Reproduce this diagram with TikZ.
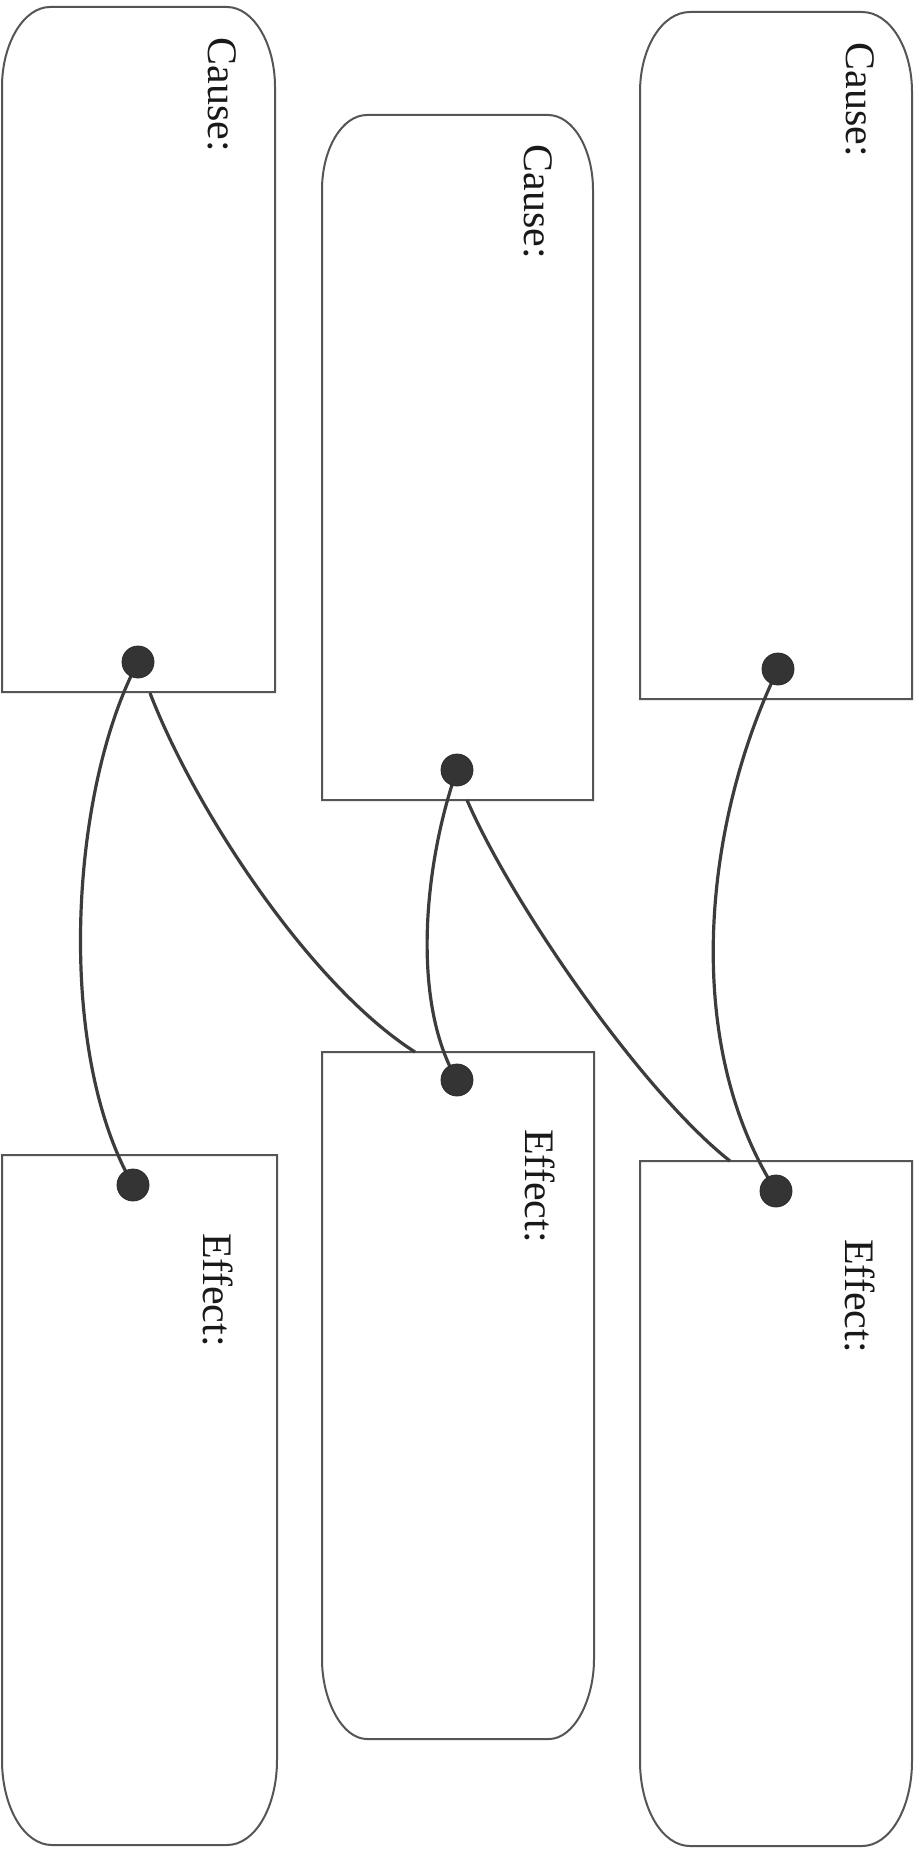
\documentclass[tikz,border=0pt]{standalone}
\usepackage{fontspec}
\setmainfont{Liberation Serif}
\definecolor{boxline}{HTML}{555555}
\definecolor{wire}{HTML}{3C3C3C}
\definecolor{dotfill}{HTML}{343434}
\begin{document}
\begin{tikzpicture}[x=0.5pt,y=-0.5pt,
  boxpath/.style={draw=boxline,line width=1pt,fill=white},
  wirepath/.style={draw=wire,line width=1.6pt},
  knob/.style={circle,fill=dotfill,draw=dotfill!80!black,line width=0.4pt,minimum size=16pt,inner sep=0pt},
  label/.style={rotate=-90,font=\fontsize{21}{24}\selectfont,inner sep=0pt,text=black!90}]
\useasboundingbox[fill=white] (0,0) rectangle (919,1851);
% cause boxes
\draw[boxpath] (2,692) -- (2,87) .. controls (2,43) and (24,7) .. (50,7) -- (227,7) .. controls (253,7) and (275,43) .. (275,87) -- (275,692) -- cycle;
\draw[boxpath] (322,800) -- (322,190) .. controls (322,149) and (342,115) .. (367,115) -- (548,115) .. controls (573,115) and (593,149) .. (593,190) -- (593,800) -- cycle;
\draw[boxpath] (640,699) -- (640,92) .. controls (640,48) and (662,12) .. (690,12) -- (862,12) .. controls (890,12) and (912,48) .. (912,92) -- (912,699) -- cycle;
% effect boxes
\draw[boxpath] (2,1155) -- (277,1155) -- (277,1760) .. controls (277,1807) and (255,1845) .. (227,1845) -- (52,1845) .. controls (24,1845) and (2,1807) .. (2,1760) -- cycle;
\draw[boxpath] (322,1052) -- (594,1052) -- (594,1659) .. controls (594,1700) and (574,1739) .. (549,1739) -- (367,1739) .. controls (342,1739) and (322,1700) .. (322,1659) -- cycle;
\draw[boxpath] (640,1161) -- (912,1161) -- (912,1761) .. controls (912,1808) and (890,1846) .. (862,1846) -- (690,1846) .. controls (662,1846) and (640,1808) .. (640,1761) -- cycle;
% labels
\node[label] (c1) at (222,95) {Cause:};
\node[label] (c2) at (538,202) {Cause:};
\node[label] (c3) at (860,100) {Cause:};
\node[label] (e1) at (218,1290) {Effect:};
\node[label] (e2) at (540,1186) {Effect:};
\node[label] (e3) at (860,1296) {Effect:};
% anchor points
\coordinate (d1) at (138,662);
\coordinate (d2) at (457,770);
\coordinate (d3) at (778,669);
\coordinate (d4) at (133,1185);
\coordinate (d5) at (457,1080);
\coordinate (d6) at (776,1191);
\coordinate (b1) at (150,693);
\coordinate (t5) at (415,1052);
\coordinate (b2) at (467,800);
\coordinate (t6) at (730,1161);
% connectors
\draw[wirepath] (d1) .. controls (70,790) and (55,1050) .. (d4);
\draw[wirepath] (b1) .. controls (195,810) and (310,985) .. (t5);
\draw[wirepath] (d2) .. controls (425,860) and (410,1000) .. (d5);
\draw[wirepath] (b2) .. controls (510,900) and (640,1090) .. (t6);
\draw[wirepath] (d3) .. controls (705,820) and (680,1040) .. (d6);
% knobs
\node[knob] (k1) at (d1) {};
\node[knob] (k2) at (d2) {};
\node[knob] (k3) at (d3) {};
\node[knob] (k4) at (d4) {};
\node[knob] (k5) at (d5) {};
\node[knob] (k6) at (d6) {};
\end{tikzpicture}
\end{document}
